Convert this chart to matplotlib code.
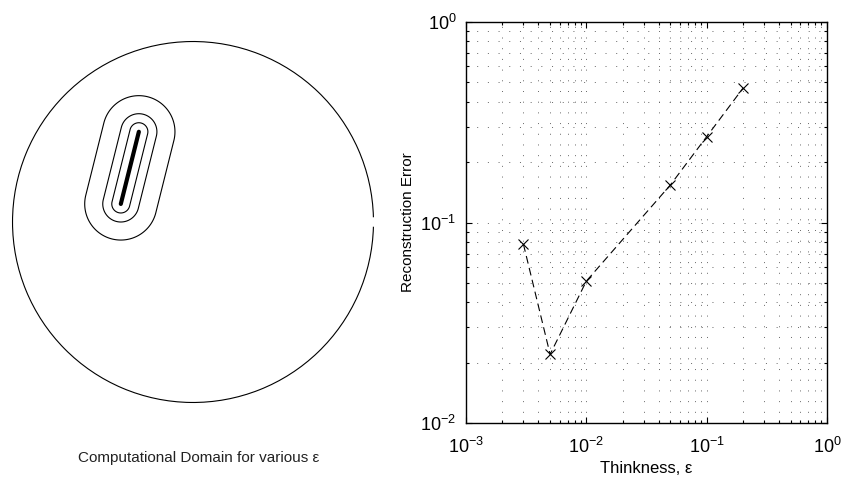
import numpy as np
import matplotlib
matplotlib.use("Agg")
import matplotlib.pyplot as plt
from matplotlib.patches import Arc
from matplotlib.ticker import LogLocator, NullFormatter

plt.rcParams['font.family'] = ['Liberation Sans', 'DejaVu Sans']

# crack (segment) inside unit disk and the contour widths shown
crack_start = (-0.40, 0.10)
crack_end = (-0.30, 0.50)
eps_levels = [0.05, 0.1, 0.2]

# reconstruction error vs thickness
thickness = [0.003, 0.005, 0.01, 0.05, 0.1, 0.2]
rec_error = [0.078, 0.022, 0.051, 0.154, 0.268, 0.467]

fig = plt.figure(figsize=(8.44, 4.8), dpi=100)

# ---- left: computational domain
ax1 = fig.add_axes([3.5 / 844, 68.5 / 480, 379 / 844, 379 / 480])
ax1.set_xlim(-1.05, 1.05)
ax1.set_ylim(-1.05, 1.05)
ax1.set_aspect('equal')
ax1.axis('off')
ax1.add_patch(Arc((0, 0), 2, 2, theta1=1.5, theta2=358.5, color='black', lw=0.8))

# distance to the crack, contoured at each epsilon
gx, gy = np.meshgrid(np.linspace(-1, 1, 800), np.linspace(-1, 1, 800))
p0 = np.array(crack_start)
d = np.array(crack_end) - p0
t = np.clip(((gx - p0[0]) * d[0] + (gy - p0[1]) * d[1]) / (d @ d), 0, 1)
dist = np.hypot(gx - (p0[0] + t * d[0]), gy - (p0[1] + t * d[1]))
ax1.contour(gx, gy, dist, levels=eps_levels, colors='black', linewidths=0.8)
ax1.plot([crack_start[0], crack_end[0]], [crack_start[1], crack_end[1]],
         color='black', lw=3, solid_capstyle='round')
fig.text(199 / 844, 1 - 458 / 480, 'Computational Domain for various ε',
         ha='center', va='center', fontsize=11, color='#222222')

# ---- right: error plot
ax2 = fig.add_axes([466 / 844, 57 / 480, 361 / 844, 401 / 480])
ax2.loglog(thickness, rec_error, color='black', lw=0.8, ls=(0, (7, 4)),
           marker='x', ms=7, mew=0.8)
ax2.set_xlim(1e-3, 1)
ax2.set_ylim(1e-2, 1)
ax2.xaxis.set_minor_locator(LogLocator(base=10, subs=np.arange(2, 10)))
ax2.yaxis.set_minor_locator(LogLocator(base=10, subs=np.arange(2, 10)))
ax2.xaxis.set_minor_formatter(NullFormatter())
ax2.yaxis.set_minor_formatter(NullFormatter())
ax2.grid(True, which='both', ls=(0, (1, 10)), color='0.4', lw=0.7)
ax2.tick_params(which='both', direction='in', top=True, right=True, labelsize=13, width=0.8)
ax2.tick_params(which='major', length=4, pad=7)
ax2.tick_params(axis='x', which='major', pad=10)
ax2.tick_params(which='minor', length=2)
for s in ax2.spines.values():
    s.set_linewidth(1.0)
ax2.set_xlabel('Thinkness, ε', fontsize=12, labelpad=3)
ax2.set_ylabel('Reconstruction Error', fontsize=11, labelpad=4)

fig.savefig('out.png', dpi=100)
